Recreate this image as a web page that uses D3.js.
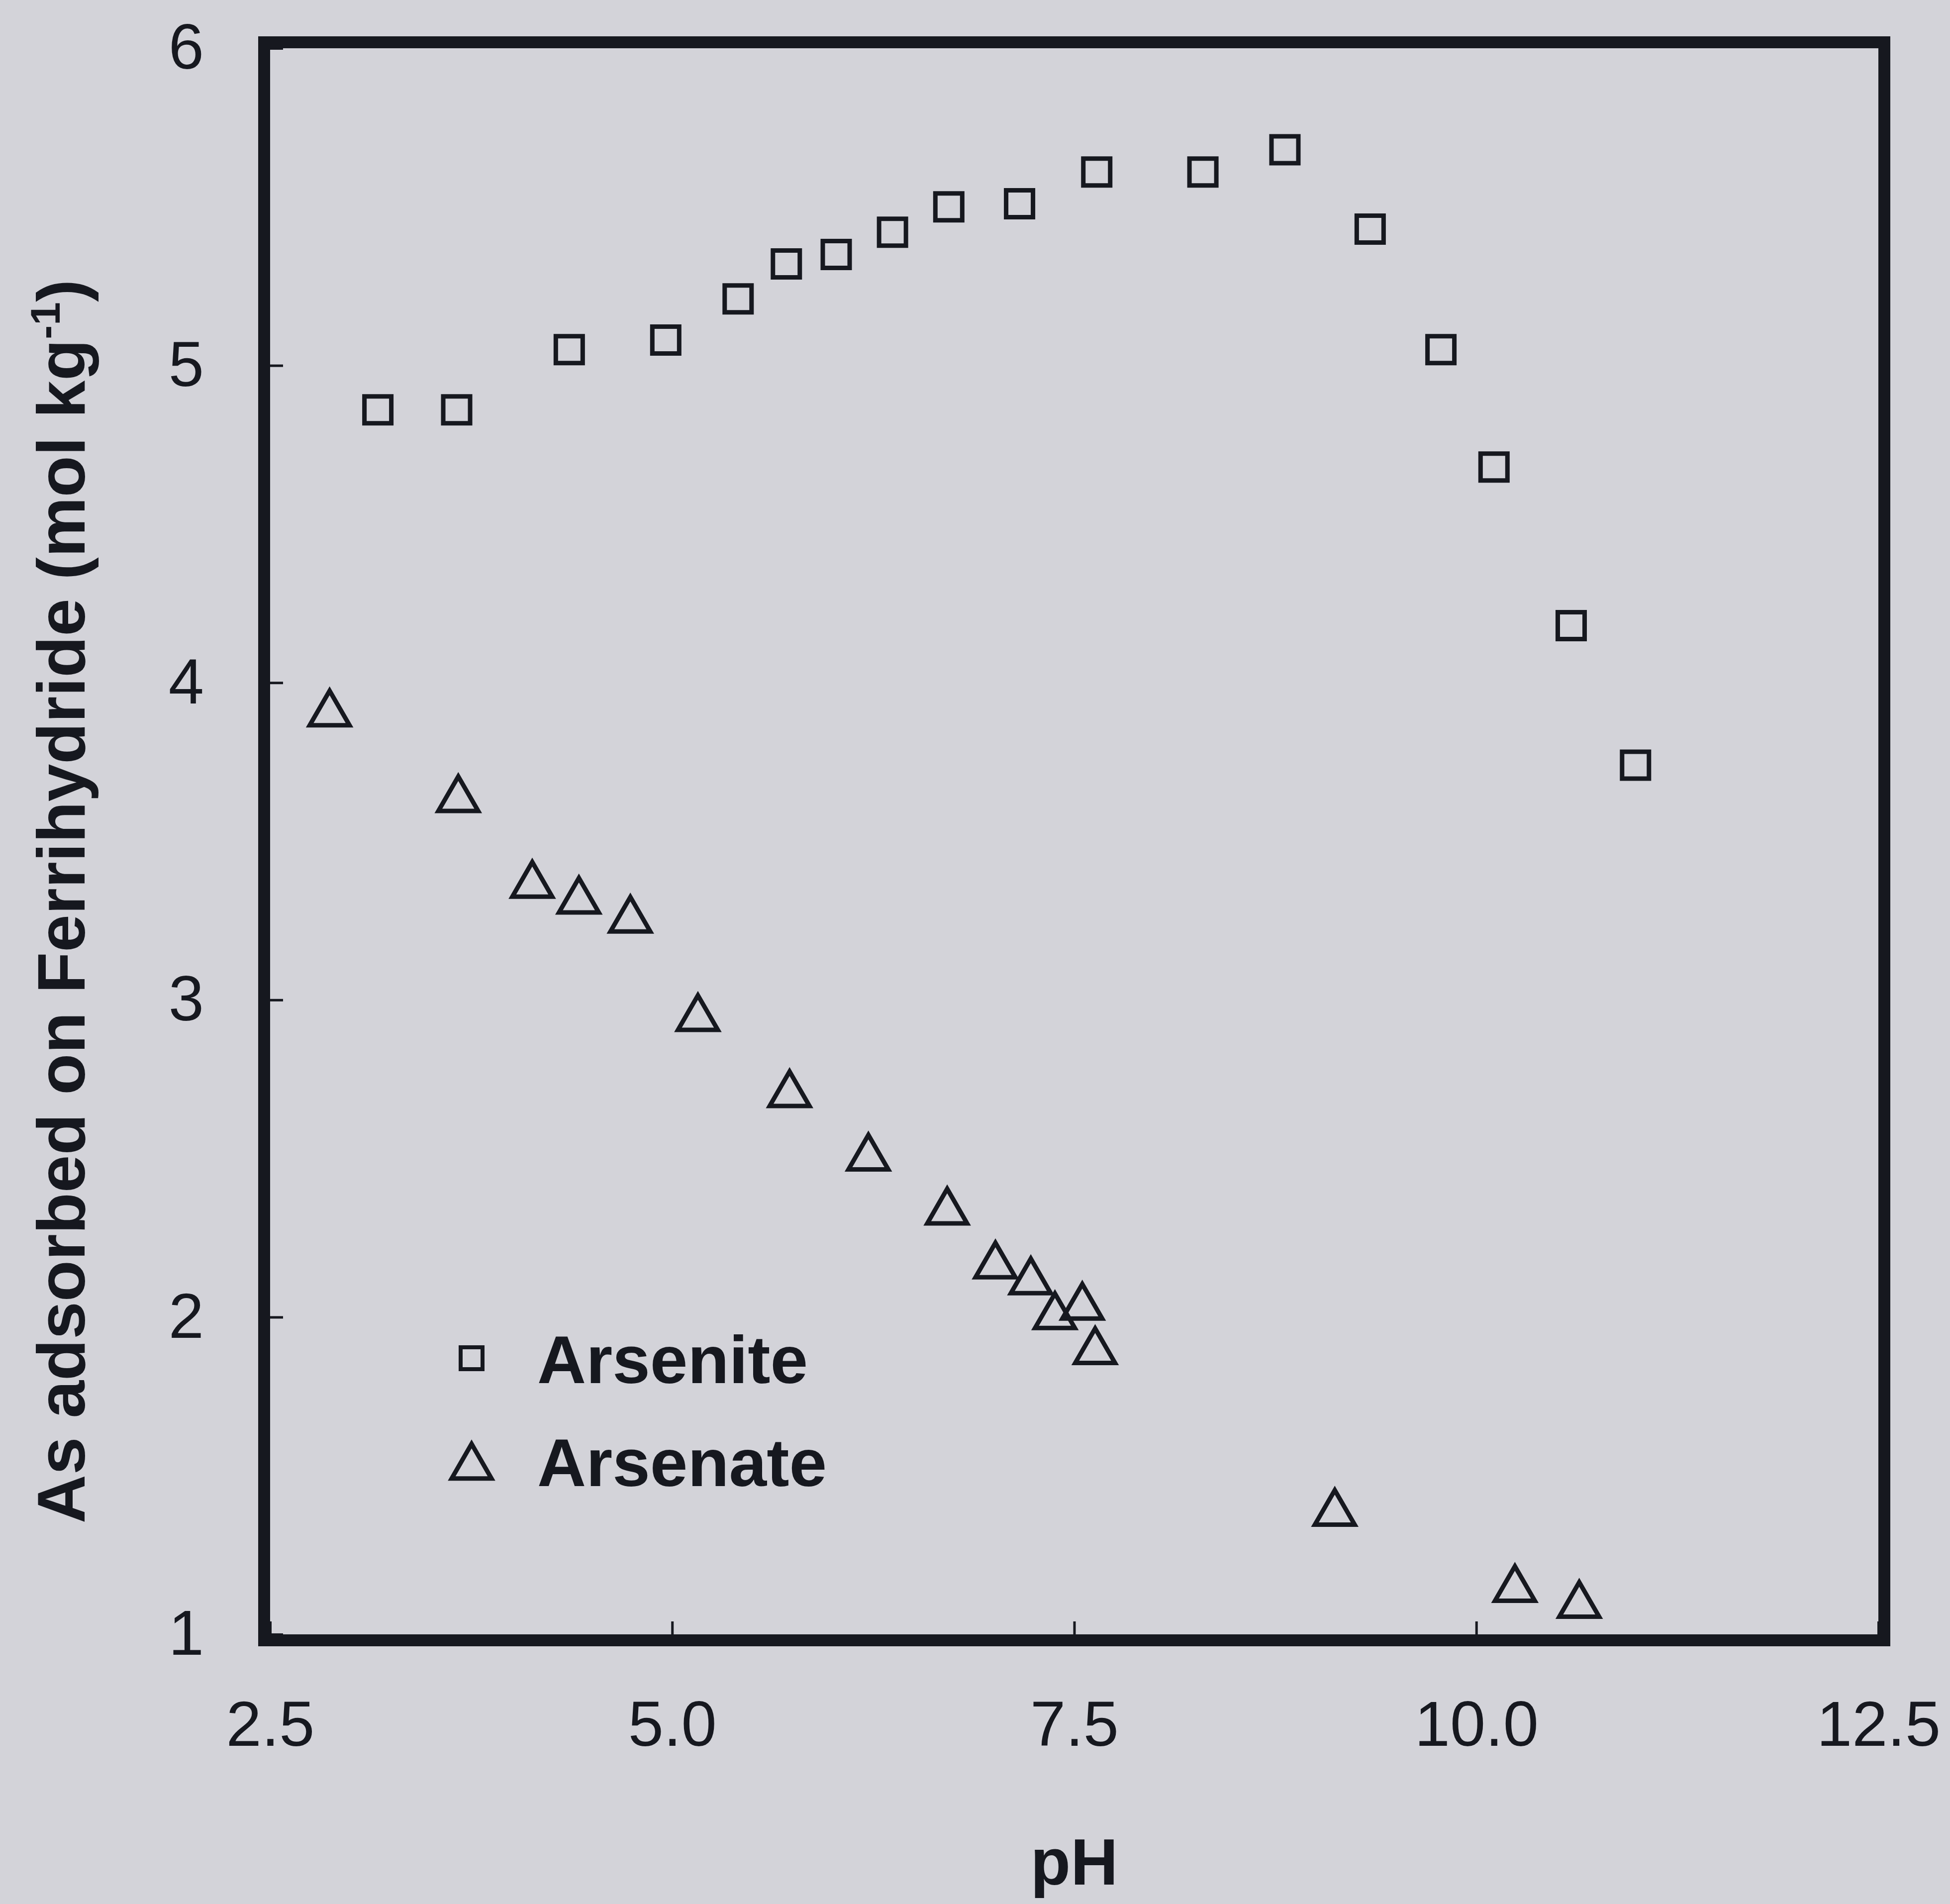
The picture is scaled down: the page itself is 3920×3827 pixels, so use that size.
<!DOCTYPE html>
<html>
<head>
<meta charset="utf-8">
<script src="https://cdn.jsdelivr.net/npm/d3@7"></script>
<style>
  body { margin: 0; background: #d3d3d9; }
  svg { display: block; }
  text { font-family: "Liberation Sans", Arial, sans-serif; fill: #16181f; }
</style>
</head>
<body>
<div id="chart"></div>
<script>
// Data: pH vs As adsorbed (mol/kg)
var arsenitePH = [3.17, 3.66, 4.36, 4.96, 5.41, 5.71, 6.02, 6.37, 6.72, 7.16, 7.64, 8.30, 8.81, 9.34, 9.78, 10.11, 10.59, 10.99];
var arseniteAs = [4.86, 4.86, 5.05, 5.08, 5.21, 5.32, 5.35, 5.42, 5.50, 5.51, 5.61, 5.61, 5.68, 5.43, 5.05, 4.68, 4.18, 3.74];

var arsenatePH = [2.87, 3.67, 4.13, 4.42, 4.74, 5.16, 5.73, 6.22, 6.71, 7.01, 7.23, 7.38, 7.55, 7.63, 9.12, 10.24, 10.64];
var arsenateAs = [3.92, 3.65, 3.38, 3.33, 3.27, 2.96, 2.72, 2.52, 2.35, 2.18, 2.13, 2.02, 2.05, 1.91, 1.40, 1.16, 1.11];

var xTicks = [2.5, 5.0, 7.5, 10.0, 12.5];
var yTicks = [1, 2, 3, 4, 5, 6];
var seriesNames = ["Arsenite", "Arsenate"];

// Canvas size and plot box
var width = 3920;
var height = 3827;
var plotLeft = 543, plotRight = 3776, plotTop = 97, plotBottom = 3285;
var ink = "#16181f";

var svg = d3.select("#chart")
  .append("svg")
  .attr("width", width)
  .attr("height", height);

svg.append("rect")
  .attr("width", width)
  .attr("height", height)
  .attr("fill", "#d3d3d9");

// Scales
var xScale = d3.scaleLinear().domain([2.5, 12.5]).range([plotLeft, plotRight]);
var yScale = d3.scaleLinear().domain([1, 6]).range([plotBottom, plotTop]);

// Axes with inward ticks
var xAxis = d3.axisBottom(xScale)
  .tickValues(xTicks)
  .tickFormat(d3.format(".1f"))
  .tickSizeInner(-26)
  .tickSizeOuter(0)
  .tickPadding(133);

var yAxis = d3.axisLeft(yScale)
  .tickValues(yTicks)
  .tickFormat(d3.format("d"))
  .tickSizeInner(-26)
  .tickSizeOuter(0)
  .tickPadding(133);

var gx = svg.append("g")
  .attr("transform", "translate(0," + plotBottom + ")")
  .call(xAxis);

var gy = svg.append("g")
  .attr("transform", "translate(" + plotLeft + ",0)")
  .call(yAxis);

[gx, gy].forEach(function (g) {
  g.select(".domain").remove();
  g.selectAll(".tick line").attr("stroke", ink).attr("stroke-width", 5);
  g.selectAll(".tick text")
    .attr("fill", ink)
    .style("font-size", "128px")
    .style("font-family", "'Liberation Sans', Arial, sans-serif");
});

// Frame around the plot
var frameW = 24;
svg.append("rect")
  .attr("x", plotLeft - frameW / 2)
  .attr("y", plotTop - frameW / 2)
  .attr("width", plotRight - plotLeft + frameW)
  .attr("height", plotBottom - plotTop + frameW)
  .attr("fill", "none")
  .attr("stroke", ink)
  .attr("stroke-width", frameW);

// Triangle symbol centred on its bounding box
var triangleType = {
  draw: function (context, size) {
    var w = Math.sqrt(size);
    var h = w * Math.sqrt(3) / 2;
    context.moveTo(0, -h / 2);
    context.lineTo(w / 2, h / 2);
    context.lineTo(-w / 2, h / 2);
    context.closePath();
  }
};

var squarePath = d3.symbol().type(d3.symbolSquare).size(54 * 54);
var trianglePath = d3.symbol().type(triangleType).size(80 * 80);

// Arsenite points (squares)
svg.append("g")
  .selectAll("path")
  .data(d3.zip(arsenitePH, arseniteAs))
  .join("path")
  .attr("d", squarePath)
  .attr("transform", function (d) { return "translate(" + xScale(d[0]) + "," + yScale(d[1]) + ")"; })
  .attr("fill", "none")
  .attr("stroke", ink)
  .attr("stroke-width", 9);

// Arsenate points (triangles)
svg.append("g")
  .selectAll("path")
  .data(d3.zip(arsenatePH, arsenateAs))
  .join("path")
  .attr("d", trianglePath)
  .attr("transform", function (d) { return "translate(" + xScale(d[0]) + "," + yScale(d[1]) + ")"; })
  .attr("fill", "none")
  .attr("stroke", ink)
  .attr("stroke-width", 9)
  .attr("stroke-linejoin", "miter");

// Legend
var legend = svg.append("g").attr("transform", "translate(948,2730)");

legend.append("path")
  .attr("d", d3.symbol().type(d3.symbolSquare).size(44 * 44))
  .attr("fill", "none")
  .attr("stroke", ink)
  .attr("stroke-width", 8);

legend.append("path")
  .attr("d", trianglePath)
  .attr("transform", "translate(0,207)")
  .attr("fill", "none")
  .attr("stroke", ink)
  .attr("stroke-width", 9);

legend.selectAll("text")
  .data(seriesNames)
  .join("text")
  .attr("x", 132)
  .attr("y", function (d, i) { return 50 + i * 207; })
  .style("font-size", "136px")
  .style("font-weight", "bold")
  .text(function (d) { return d; });

// Axis titles
svg.append("text")
  .attr("x", (plotLeft + plotRight) / 2)
  .attr("y", 3788)
  .attr("text-anchor", "middle")
  .style("font-size", "132px")
  .style("font-weight", "bold")
  .text("pH");

var yTitle = svg.append("text")
  .attr("transform", "translate(170," + 1812 + ")rotate(-90)")
  .attr("text-anchor", "middle")
  .style("font-size", "136px")
  .style("font-weight", "bold");

yTitle.append("tspan").text("As adsorbed on Ferrihydride (mol kg");
yTitle.append("tspan")
  .attr("dy", -50)
  .style("font-size", "84px")
  .text("-1");
yTitle.append("tspan")
  .attr("dy", 50)
  .text(")");
</script>
</body>
</html>
